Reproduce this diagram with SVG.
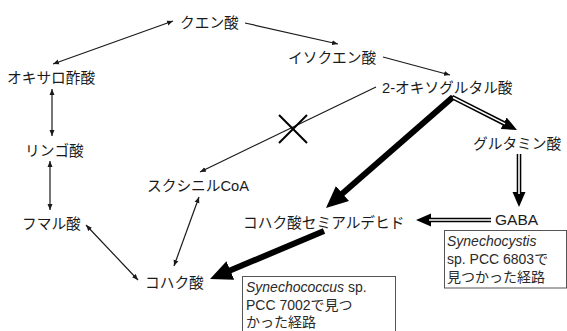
<svg xmlns="http://www.w3.org/2000/svg" width="567" height="331" viewBox="0 0 567 331">
<style>
text{font-family:"Liberation Sans","Noto Sans CJK JP",sans-serif;font-size:14.7px;fill:#1a1a1a}
.box text{font-size:14px;fill:#2a2a2a}
.it{font-style:italic}
.thin{stroke:#1a1a1a;stroke-width:1.2;fill:none}
.thick{stroke:#000;stroke-width:6;fill:none}
.dblo{stroke:#000;stroke-width:4.6;fill:none}
.dbli{stroke:#fff;stroke-width:1.6;fill:none}
.frame{fill:#fff;stroke:#555;stroke-width:1}
</style>
<defs>
<marker id="sm" markerUnits="userSpaceOnUse" markerWidth="7" markerHeight="6" refX="6" refY="2.5" orient="auto-start-reverse" viewBox="0 0 7 5">
<path d="M0,0 L6,2.5 L0,5 z" fill="#1a1a1a"/>
</marker>
<marker id="big" markerUnits="userSpaceOnUse" markerWidth="23" markerHeight="21" refX="10" refY="10" orient="auto" viewBox="0 0 23 20">
<path d="M0,0 L22,10 L0,20 z" fill="#000"/>
</marker>
<marker id="dbl" markerUnits="userSpaceOnUse" markerWidth="16" markerHeight="14" refX="7" refY="6.5" orient="auto" viewBox="0 0 16 13">
<path d="M0,0 L15,6.5 L0,13 z" fill="#000"/>
</marker>
</defs>
<g id="connectors">
<line class="thin" x1="173" y1="21" x2="53" y2="64" marker-start="url(#sm)" marker-end="url(#sm)"/>
<line class="thin" x1="245" y1="23" x2="338" y2="44" marker-end="url(#sm)"/>
<line class="thin" x1="383" y1="57" x2="450" y2="75" marker-end="url(#sm)"/>
<line class="thin" x1="52" y1="89" x2="52" y2="136" marker-start="url(#sm)" marker-end="url(#sm)"/>
<line class="thin" x1="50" y1="161" x2="50" y2="210" marker-start="url(#sm)" marker-end="url(#sm)"/>
<line class="thin" x1="86" y1="225" x2="138" y2="280" marker-start="url(#sm)" marker-end="url(#sm)"/>
<line class="thin" x1="199" y1="197" x2="174" y2="266" marker-start="url(#sm)" marker-end="url(#sm)"/>
<line class="thin" x1="376" y1="87" x2="200" y2="172" marker-end="url(#sm)"/>
<g id="block-mark" stroke="#000" stroke-width="2" fill="none">
<line x1="279" y1="115" x2="307" y2="143"/>
<line x1="279" y1="143" x2="307" y2="115"/>
</g>
<line class="thick" x1="453" y1="97" x2="335" y2="200.1" marker-end="url(#big)"/>
<line class="thick" x1="324" y1="231" x2="221.1" y2="274.3" marker-end="url(#big)"/>
<line class="dblo" x1="452" y1="97" x2="509.9" y2="126.4" marker-end="url(#dbl)"/>
<line class="dbli" x1="453" y1="97.5" x2="505" y2="123.9"/>
<line class="dblo" x1="519" y1="154" x2="519" y2="199" marker-end="url(#dbl)"/>
<line class="dbli" x1="519" y1="154" x2="519" y2="194"/>
<line class="dblo" x1="491" y1="220" x2="424" y2="220" marker-end="url(#dbl)"/>
<line class="dbli" x1="491" y1="220" x2="429" y2="220"/>
</g>
<g id="citric"><text x="180" y="28">クエン酸</text></g>
<g id="isocitric"><text x="288" y="63">イソクエン酸</text></g>
<g id="oxoglutarate"><text x="382" y="93">2-オキソグルタル酸</text></g>
<g id="oxaloacetate"><text x="7" y="83">オキサロ酢酸</text></g>
<g id="malate"><text x="25" y="156">リンゴ酸</text></g>
<g id="fumarate"><text x="22" y="229">フマル酸</text></g>
<g id="succinylcoa"><text x="147" y="191">スクシニルCoA</text></g>
<g id="succinate"><text x="145" y="288">コハク酸</text></g>
<g id="ssa"><text x="243" y="228">コハク酸セミアルデヒド</text></g>
<g id="glutamate"><text x="473" y="149">グルタミン酸</text></g>
<g id="gaba"><text x="495" y="225" style="font-size:15.5px">GABA</text></g>
<g id="note-7002" class="box">
<rect class="frame" x="242.5" y="276.5" width="153" height="62"/>
<text x="246" y="292"><tspan class="it">Synechococcus</tspan> sp.</text>
<text x="246" y="309.5">PCC 7002で見つ</text>
<text x="246" y="327">かった経路</text>
</g>
<g id="note-6803" class="box">
<rect class="frame" x="444.5" y="230.5" width="122" height="57.5"/>
<text x="447" y="246" class="it">Synechocystis</text>
<text x="447" y="264">sp. PCC 6803で</text>
<text x="447" y="282">見つかった経路</text>
</g>
</svg>
